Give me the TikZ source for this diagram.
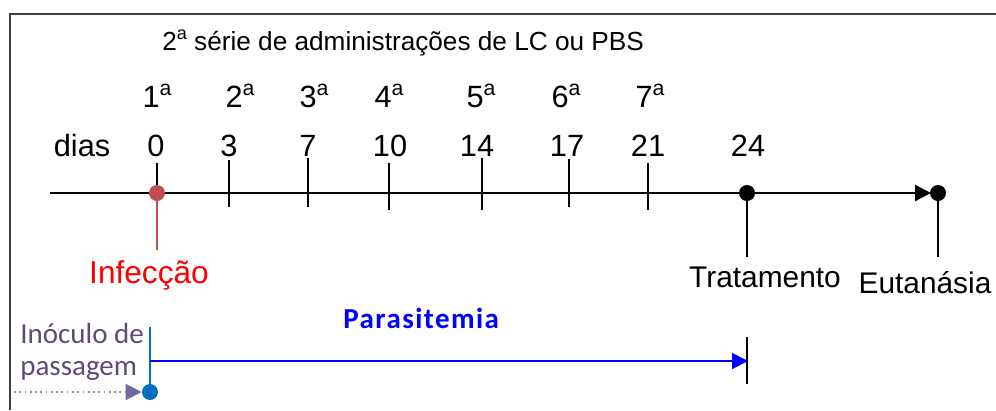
\documentclass[tikz,border=0pt]{standalone}
\usepackage{fontspec}
\setmainfont{Liberation Sans}
\newfontfamily\calibri{Carlito}
\usetikzlibrary{positioning, arrows.meta}

\definecolor{framegray}{HTML}{404040}
\definecolor{infred}{HTML}{C0504D}
\definecolor{inocblue}{HTML}{0070C0}
\definecolor{inocpurple}{HTML}{5F497A}
\definecolor{arrowpurple}{HTML}{6B6B9E}
\definecolor{dotpurple}{HTML}{9090C0}
\newcommand{\ordsup}{\raisebox{0.39em}{\scalebox{0.69}{a}}}

\begin{document}
\begin{tikzpicture}[x=0.02cm, y=-0.02cm, >={Triangle[length=0.32cm, width=0.32cm]}, every node/.style={font=\fontsize{17}{20}\selectfont, inner sep=0pt}]
  \tikzset{num/.style={font=\fontsize{17.5}{20}\selectfont}, axis/.style={line width=1.2pt}, tick/.style={line width=1.1pt}, dot/.style={circle, fill=black, minimum size=0.32cm, inner sep=0pt}}
  \useasboundingbox (0,0) rectangle (996,410);
  \draw[line width=1.1pt, framegray] (10,410) -- (10,14) -- (996,14);

  \node[anchor=base west, font=\fontsize{14.9}{16}\selectfont] (title) at (162,50) {2\ordsup{} série de administrações de LC ou PBS};

  \node[num] (o1) at (157,96) {1\ordsup};
  \node[num] (o2) at (240,96) {2\ordsup};
  \node[num] (o3) at (314,96) {3\ordsup};
  \node[num] (o4) at (389,96) {4\ordsup};
  \node[num] (o5) at (481,96) {5\ordsup};
  \node[num] (o6) at (566,96) {6\ordsup};
  \node[num] (o7) at (650,96) {7\ordsup};

  \node[num] (d0) at (156,146) {0};
  \node[num] (d3) at (229,146) {3};
  \node[num] (d7) at (308,146) {7};
  \node[num] (d10) at (390,146) {10};
  \node[num] (d14) at (477,146) {14};
  \node[num] (d17) at (567,146) {17};
  \node[num] (d21) at (648,146) {21};
  \node[num] (d24) at (748,146) {24};
  \node[num, left=0.73cm of d0] (dias) {dias};

  \coordinate (axstart) at (50,193);
  \coordinate (axend) at (931,193);
  \draw[axis, ->] (axstart) -- (axend);

  \draw[tick] (157,163) -- (157,193);
  \draw[tick] (229,160) -- (229,207);
  \draw[tick] (308,158) -- (308,207);
  \draw[tick] (389,163) -- (389,210);
  \draw[tick] (482,158) -- (482,210);
  \draw[tick] (569,159) -- (569,207);
  \draw[tick] (648,163) -- (648,210);

  \node[dot, fill=infred] (inf) at (157,193) {};
  \node[dot] (trat) at (747,193) {};
  \node[dot] (eut) at (938,193) {};
  \coordinate (infend) at (157,250);
  \coordinate (tratend) at (747,257);
  \coordinate (eutend) at (938,257);
  \draw[infred, line width=1.6pt] (inf) -- (infend);
  \draw[tick] (trat) -- (tratend);
  \draw[tick] (eut) -- (eutend);

  \node[anchor=base, text=red, font=\fontsize{18}{20}\selectfont] (infl) at (149,283) {Infecção};
  \node[anchor=base] (tratl) at (765,287) {Tratamento};
  \node[anchor=base] (eutl) at (925,293) {Eutanásia};

  \node[anchor=base west, text=blue, font=\calibri\bfseries\fontsize{16.5}{20}\selectfont\addfontfeature{LetterSpace=5}] (para) at (343,328) {Parasitemia};
  \node[anchor=base west, align=left, text=inocpurple, font=\calibri\fontsize{16.5}{18}\selectfont] (inocl) at (20,375) {Inóculo de\\passagem};

  \coordinate (ptop) at (150,327);
  \coordinate (pstart) at (150,361);
  \coordinate (pend) at (748,361);
  \coordinate (bartop) at (747,337);
  \coordinate (barbot) at (747,384);
  \coordinate (dotstart) at (14,392);
  \node[dot, fill=inocblue] (inoc) at (150,392) {};
  \draw[inocblue, line width=1.1pt] (ptop) -- (inoc);
  \draw[blue, line width=1.1pt, ->] (pstart) -- (pend);
  \draw[tick] (bartop) -- (barbot);
  \draw[dotted, line width=1pt, dotpurple, -{Triangle[length=0.32cm, width=0.32cm, color=arrowpurple]}] (dotstart) -- (inoc.west);
\end{tikzpicture}
\end{document}
